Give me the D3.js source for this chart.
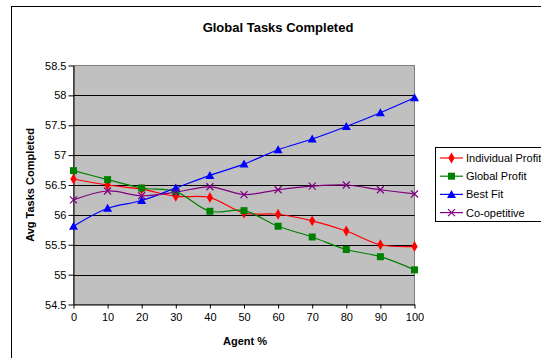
<!DOCTYPE html>
<html>
<head>
<meta charset="utf-8">
<script src="https://cdn.jsdelivr.net/npm/d3@7"></script>
<style>
  html, body { margin: 0; padding: 0; background: #fff; }
  svg { display: block; font-family: Arial, "Liberation Sans", sans-serif; }
</style>
</head>
<body>
<svg id="chart" width="541" height="358"></svg>
<script>
// Agent percentages on the x axis
const agentPct = [0, 10, 20, 30, 40, 50, 60, 70, 80, 90, 100];

// Average tasks completed per strategy
const individualProfit = [56.60, 56.50, 56.43, 56.31, 56.29, 56.03, 56.01, 55.90, 55.73, 55.50, 55.47];
const globalProfit     = [56.74, 56.59, 56.45, 56.39, 56.06, 56.07, 55.81, 55.63, 55.42, 55.30, 55.08];
const bestFit          = [55.81, 56.11, 56.24, 56.45, 56.66, 56.85, 57.09, 57.27, 57.48, 57.71, 57.96];
const coopetitive      = [56.25, 56.40, 56.32, 56.38, 56.47, 56.34, 56.42, 56.48, 56.50, 56.42, 56.35];

const seriesNames = ["Individual Profit", "Global Profit", "Best Fit", "Co-opetitive"];
const yTicks = [54.5, 55, 55.5, 56, 56.5, 57, 57.5, 58, 58.5];

const series = [
  { name: seriesNames[0], values: individualProfit, color: "#ff0000", marker: "diamond" },
  { name: seriesNames[1], values: globalProfit,     color: "#008000", marker: "square" },
  { name: seriesNames[2], values: bestFit,          color: "#0000ff", marker: "triangle" },
  { name: seriesNames[3], values: coopetitive,      color: "#800080", marker: "x" }
];

const svg = d3.select("#chart");

// Outer chart frame
svg.append("rect")
  .attr("x", 11.5).attr("y", 6.5)
  .attr("width", 560).attr("height", 380)
  .attr("fill", "#fff").attr("stroke", "#000").attr("stroke-width", 1);

const plot = { left: 73.5, top: 65.5, right: 414.5, bottom: 304.5 };

const x = d3.scaleLinear().domain([0, 100]).range([plot.left, plot.right]);
const y = d3.scaleLinear().domain([54.5, 58.5]).range([plot.bottom, plot.top]);

// Plot background
svg.append("rect")
  .attr("x", plot.left).attr("y", plot.top)
  .attr("width", plot.right - plot.left).attr("height", plot.bottom - plot.top)
  .attr("fill", "#c0c0c0").attr("stroke", "#808080").attr("stroke-width", 1);

// Horizontal gridlines
svg.append("g")
  .selectAll("line")
  .data(yTicks.filter(t => t > 54.5 && t < 58.5))
  .join("line")
  .attr("x1", plot.left).attr("x2", plot.right)
  .attr("y1", d => Math.round(y(d)) + 0.5).attr("y2", d => Math.round(y(d)) + 0.5)
  .attr("stroke", "#000").attr("stroke-width", 1);

// Axes
const yAxis = svg.append("g")
  .attr("transform", `translate(${plot.left},0)`)
  .call(d3.axisLeft(y).tickValues(yTicks).tickSize(5).tickSizeOuter(0).tickFormat(d3.format("")));
const xAxis = svg.append("g")
  .attr("transform", `translate(0,${plot.bottom})`)
  .call(d3.axisBottom(x).tickValues(agentPct).tickSize(4).tickSizeOuter(0));

[yAxis, xAxis].forEach(g => {
  g.select(".domain").attr("stroke", "#000");
  g.selectAll(".tick line").attr("stroke", "#000");
  g.selectAll("text").attr("fill", "#000").style("font-size", "11px")
    .style("font-family", "Arial, 'Liberation Sans', sans-serif");
});
yAxis.selectAll("text").attr("x", -7);
xAxis.selectAll("text").attr("y", 9);

// Series lines (smoothed)
const line = d3.line()
  .x((d, i) => x(agentPct[i]))
  .y(d => y(d))
  .curve(d3.curveCatmullRom.alpha(0.5));

const gSeries = svg.append("g");

function drawMarker(sel, type, color) {
  if (type === "diamond") {
    sel.append("path").attr("d", d3.symbol(d3.symbolDiamond, 34)()).attr("fill", color);
  } else if (type === "square") {
    sel.append("rect").attr("x", -3.5).attr("y", -3.5).attr("width", 7).attr("height", 7).attr("fill", color);
  } else if (type === "triangle") {
    sel.append("path").attr("d", "M0,-4.5L4.5,3.5L-4.5,3.5Z").attr("fill", color);
  } else if (type === "x") {
    sel.append("path").attr("d", "M-3.5,-3.5L3.5,3.5M-3.5,3.5L3.5,-3.5")
      .attr("stroke", color).attr("stroke-width", 1.2).attr("fill", "none");
  }
}

series.forEach(s => {
  gSeries.append("path")
    .attr("d", line(s.values))
    .attr("fill", "none")
    .attr("stroke", s.color)
    .attr("stroke-width", 1.2);
});
series.forEach(s => {
  gSeries.append("g").selectAll("g")
    .data(s.values)
    .join("g")
    .attr("transform", (d, i) => `translate(${x(agentPct[i])},${y(d)})`)
    .each(function () { drawMarker(d3.select(this), s.marker, s.color); });
});

// Title
svg.append("text")
  .attr("x", 278).attr("y", 32)
  .attr("text-anchor", "middle")
  .style("font-size", "13px").style("font-weight", "bold")
  .text("Global Tasks Completed");

// Axis titles
svg.append("text")
  .attr("transform", `translate(34,${(plot.top + plot.bottom) / 2}) rotate(-90)`)
  .attr("text-anchor", "middle")
  .style("font-size", "11px").style("font-weight", "bold")
  .text("Avg Tasks Completed");

svg.append("text")
  .attr("x", 245).attr("y", 345)
  .attr("text-anchor", "middle")
  .style("font-size", "11px").style("font-weight", "bold")
  .text("Agent %");

// Legend
const legend = svg.append("g");
legend.append("rect")
  .attr("x", 435.5).attr("y", 147.5)
  .attr("width", 120).attr("height", 74)
  .attr("fill", "#fff").attr("stroke", "#000").attr("stroke-width", 1);

series.forEach((s, i) => {
  const ly = 158 + i * 18.2;
  const item = legend.append("g");
  item.append("line")
    .attr("x1", 440).attr("x2", 463)
    .attr("y1", ly).attr("y2", ly)
    .attr("stroke", s.color).attr("stroke-width", 1.2);
  drawMarker(item.append("g").attr("transform", `translate(451.5,${ly})`), s.marker, s.color);
  item.append("text")
    .attr("x", 466).attr("y", ly + 4)
    .style("font-size", "11px")
    .text(s.name);
});
</script>
</body>
</html>
